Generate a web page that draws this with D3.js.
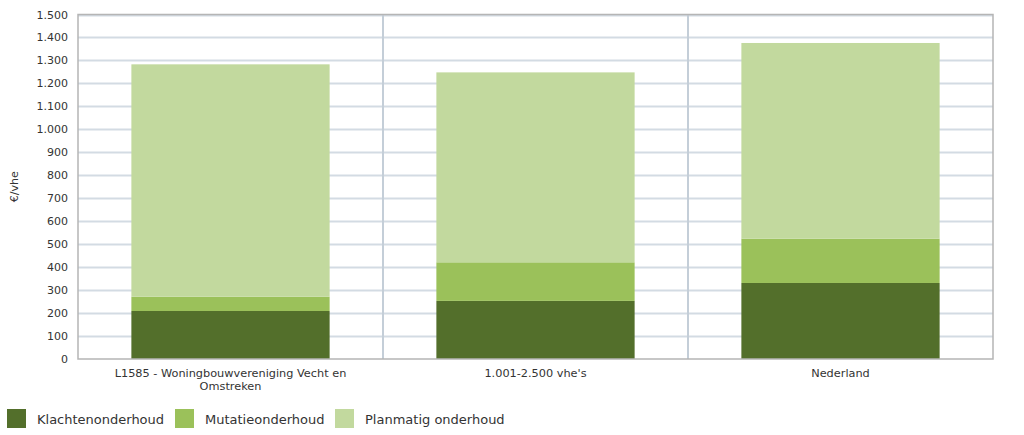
<!DOCTYPE html>
<html>
<meta charset=utf-8>
<head>
<script src="https://cdn.jsdelivr.net/npm/d3@7"></script>
<style>
  body { margin: 0; background: #fff; }
  text { font-family: "DejaVu Sans", Verdana, sans-serif; fill: #333; }
</style>
</head>
<body>
<script>
// data
var categories = ["L1585 - Woningbouwvereniging Vecht en Omstreken", "1.001-2.500 vhe's", "Nederland"];
var series = ["Klachtenonderhoud", "Mutatieonderhoud", "Planmatig onderhoud"];
var klachten = [209, 253, 331];
var mutatie = [62, 168, 193];
var planmatig = [1012, 827, 852];
var yTicks = [0, 100, 200, 300, 400, 500, 600, 700, 800, 900, 1000, 1100, 1200, 1300, 1400, 1500];
var colors = ["#536f2b", "#9bc15a", "#c2d99e"];

var width = 1024, height = 435;
var m = {left: 78, right: 31, top: 14.5, bottom: 76};

var svg = d3.select("body").append("svg")
    .attr("width", width).attr("height", height);

var x = d3.scaleBand().domain(categories)
    .range([m.left, width - m.right]).paddingInner(0).paddingOuter(0);
var y = d3.scaleLinear().domain([0, 1500]).range([height - m.bottom, m.top]);

var fmt = function(d) { return d3.format(",")(d).replace(/,/g, "."); };

// gridlines
svg.append("g").selectAll("line").data(yTicks.slice(1)).join("line")
    .attr("x1", m.left).attr("x2", width - m.right)
    .attr("y1", function(d) { return Math.round(y(d)) + 0.5; })
    .attr("y2", function(d) { return Math.round(y(d)) + 0.5; })
    .attr("stroke", "#d3dbe3").attr("stroke-width", 2);

// category separators
svg.append("g").selectAll("line").data(categories.slice(1)).join("line")
    .attr("x1", function(d) { return x(d); }).attr("x2", function(d) { return x(d); })
    .attr("y1", y(1500)).attr("y2", y(0))
    .attr("stroke", "#c4ced8").attr("stroke-width", 2);

// stacked bars
var rows = categories.map(function(c, i) {
  return {cat: c, Klachtenonderhoud: klachten[i], Mutatieonderhoud: mutatie[i], "Planmatig onderhoud": planmatig[i]};
});
var stack = d3.stack().keys(series)(rows);
var bw = x.bandwidth() * 0.65;
var off = (x.bandwidth() - bw) / 2;

svg.append("g").selectAll("g").data(stack).join("g")
    .attr("fill", function(d, i) { return colors[i]; })
  .selectAll("rect").data(function(d) { return d; }).join("rect")
    .attr("x", function(d) { return x(d.data.cat) + off; })
    .attr("width", bw)
    .attr("y", function(d) { return y(d[1]); })
    .attr("height", function(d) { return y(d[0]) - y(d[1]); });

// plot frame
svg.append("rect")
    .attr("x", m.left).attr("y", y(1500))
    .attr("width", width - m.right - m.left).attr("height", y(0) - y(1500))
    .attr("fill", "none").attr("stroke", "#b5b5b5").attr("stroke-width", 1.5);

// y axis
var yAxis = svg.append("g")
    .attr("transform", "translate(" + m.left + ",0)")
    .call(d3.axisLeft(y).tickValues(yTicks).tickFormat(fmt).tickSize(0).tickPadding(10));
yAxis.select(".domain").remove();
yAxis.selectAll("text").style("font-size", "11px").attr("fill", "#333");

svg.append("text")
    .attr("transform", "translate(18," + ((y(0) + y(1500)) / 2) + ") rotate(-90)")
    .attr("text-anchor", "middle")
    .style("font-size", "11px")
    .text("€/vhe");

// x labels
var xl = svg.append("g").selectAll("text").data(categories).join("text")
    .attr("text-anchor", "middle")
    .attr("x", function(d) { return x(d) + x.bandwidth() / 2; })
    .attr("y", y(0) + 18)
    .style("font-size", "11.3px");
xl.each(function(d) {
  var t = d3.select(this);
  var lines = d.length > 40 ? ["L1585 - Woningbouwvereniging Vecht en", "Omstreken"] : [d];
  lines.forEach(function(l, i) {
    t.append("tspan").attr("x", x(d) + x.bandwidth() / 2).attr("dy", i ? 13 : 0).text(l);
  });
});

// legend
var legX = [7, 175, 335];
var leg = svg.append("g").selectAll("g").data(series).join("g")
    .attr("transform", function(d, i) { return "translate(" + legX[i] + ",409)"; });
leg.append("rect").attr("width", 19).attr("height", 19)
    .attr("fill", function(d, i) { return colors[i]; });
leg.append("text").attr("x", 30).attr("y", 14.5)
    .style("font-size", "13px")
    .text(function(d) { return d; });
</script>
</body>
</html>
